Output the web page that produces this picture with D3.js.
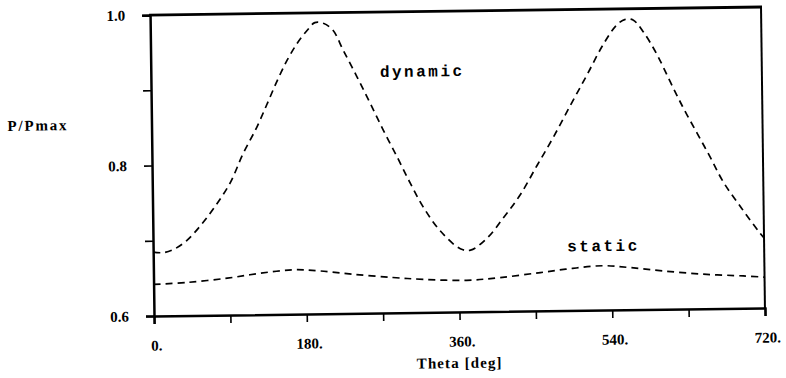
<!DOCTYPE html>
<html>
<head>
<meta charset="utf-8">
<script src="https://cdnjs.cloudflare.com/ajax/libs/d3/7.8.5/d3.min.js"></script>
<style>
  body { margin: 0; background: #fff; }
  svg { display: block; }
</style>
</head>
<body>
<script>
'use strict';

// values (theta in degrees, P/Pmax)
const dynamicTheta = [0, 12, 24, 40, 56, 74, 92, 107, 124, 137, 149, 161, 173, 185, 194, 204, 215, 227, 243, 258,
  273, 289, 304, 319, 338, 362, 374, 394, 413, 433, 454, 473, 494, 514, 533, 550, 560, 569, 581, 597, 612,
  627, 643, 658, 673, 694, 715, 720];
const dynamicP = [0.685, 0.684, 0.688, 0.700, 0.719, 0.745, 0.776, 0.813, 0.849, 0.881, 0.911, 0.938, 0.960, 0.977,
  0.987, 0.986, 0.977, 0.950, 0.914, 0.879, 0.843, 0.807, 0.772, 0.740, 0.709, 0.684, 0.682, 0.698, 0.724,
  0.754, 0.794, 0.830, 0.873, 0.913, 0.952, 0.979, 0.986, 0.985, 0.969, 0.938, 0.902, 0.867, 0.833, 0.801,
  0.768, 0.733, 0.700, 0.693];

const staticTheta = [0, 39, 87, 126, 165, 196, 235, 282, 318, 369, 408, 456, 494, 530, 562, 601, 648, 695, 720];
const staticP = [0.642, 0.644, 0.649, 0.655, 0.659, 0.657, 0.652, 0.647, 0.644, 0.642, 0.645, 0.651, 0.656,
  0.659, 0.656, 0.651, 0.646, 0.643, 0.641];

const xTicks = [0, 90, 180, 270, 360, 450, 540, 630, 720];
const xTickLabels = ["0.", "", "180.", "", "360.", "", "540.", "", "720."];
const yTicks = [0.6, 0.7, 0.8, 0.9, 1.0];
const yTickLabels = ["0.6", "", "0.8", "", "1.0"];

const seriesNames = ["dynamic", "static"];

(function() {

  let svgContainer = "";
  let plot = ""; // whole drawing, tilted a little like the scan

  window.onload = function() {
    svgContainer = d3.select('body')
      .append('svg')
      .attr('width', 786)
      .attr('height', 378);

    svgContainer.append('rect')
      .attr('width', 786)
      .attr('height', 378)
      .attr('fill', '#fff');

    plot = svgContainer.append('g')
      .attr('transform', 'rotate(-0.75, 154, 316)');

    let map = drawAxes();
    plotData(map);
    makeLabels(map);
  };

  // axes, ticks and the frame
  function drawAxes() {
    let xScale = d3.scaleLinear()
      .domain([0, 720])
      .range([154, 765]);

    let yScale = d3.scaleLinear()
      .domain([0.6, 1.0])
      .range([316, 15]);

    let xAxis = d3.axisBottom(xScale)
      .tickValues(xTicks)
      .tickSize(8)
      .tickPadding(16)
      .tickFormat((d, i) => xTickLabels[i]);

    let gx = plot.append('g')
      .attr('transform', 'translate(0,' + yScale(0.6) + ')')
      .call(xAxis);

    let yAxis = d3.axisLeft(yScale)
      .tickValues(yTicks)
      .tickSize(8)
      .tickPadding(17)
      .tickFormat((d, i) => yTickLabels[i]);

    let gy = plot.append('g')
      .attr('transform', 'translate(' + xScale(0) + ',0)')
      .call(yAxis);

    [gx, gy].forEach((g) => {
      g.select('.domain').attr('stroke', '#000').attr('stroke-width', 2.5);
      g.selectAll('.tick line').attr('stroke', '#000').attr('stroke-width', 1.6);
      g.selectAll('.tick text')
        .attr('fill', '#000')
        .style('font-family', '"Liberation Serif", serif')
        .style('font-weight', 'bold')
        .style('font-size', '15px');
    });
    gx.selectAll('.tick text').attr('dx', 2);

    // top and right side of the box
    plot.append('line')
      .attr('x1', xScale(0) - 1).attr('x2', xScale(720) + 1)
      .attr('y1', yScale(1.0)).attr('y2', yScale(1.0))
      .attr('stroke', '#000')
      .attr('stroke-width', 2.8);

    plot.append('line')
      .attr('x1', xScale(720)).attr('x2', xScale(720))
      .attr('y1', yScale(1.0)).attr('y2', yScale(0.6))
      .attr('stroke', '#000')
      .attr('stroke-width', 2);

    return { xScale: xScale, yScale: yScale };
  }

  // two dashed curves
  function plotData(map) {
    let line = d3.line()
      .x((d) => map.xScale(d[0]))
      .y((d) => map.yScale(d[1]))
      .curve(d3.curveCatmullRom.alpha(0.5));

    let series = [
      d3.zip(dynamicTheta, dynamicP),
      d3.zip(staticTheta, staticP)
    ];

    series.forEach((pts) => {
      plot.append('path')
        .datum(pts)
        .attr('fill', 'none')
        .attr('stroke', '#000')
        .attr('stroke-width', 1.7)
        .attr('stroke-dasharray', '7,5')
        .attr('d', line);
    });
  }

  // axis titles and curve names
  function makeLabels(map) {
    plot.append('text')
      .attr('x', 10)
      .attr('y', 129)
      .style('font-family', '"Liberation Serif", serif')
      .style('font-weight', 'bold')
      .style('font-size', '15px')
      .style('letter-spacing', '1.8px')
      .text('P/Pmax');

    plot.append('text')
      .attr('x', 459)
      .attr('y', 372)
      .attr('text-anchor', 'middle')
      .style('font-family', '"Liberation Serif", serif')
      .style('font-weight', 'bold')
      .style('font-size', '15px')
      .style('letter-spacing', '1.1px')
      .text('Theta [deg]');

    let namePos = [[383, 80], [568, 257]];
    seriesNames.forEach((name, i) => {
      plot.append('text')
        .attr('x', namePos[i][0])
        .attr('y', namePos[i][1])
        .style('font-family', '"Liberation Mono", monospace')
        .style('font-size', '16px')
        .style('font-weight', 'bold')
        .style('letter-spacing', '2.5px')
        .text(name);
    });
  }

})();
</script>
</body>
</html>
